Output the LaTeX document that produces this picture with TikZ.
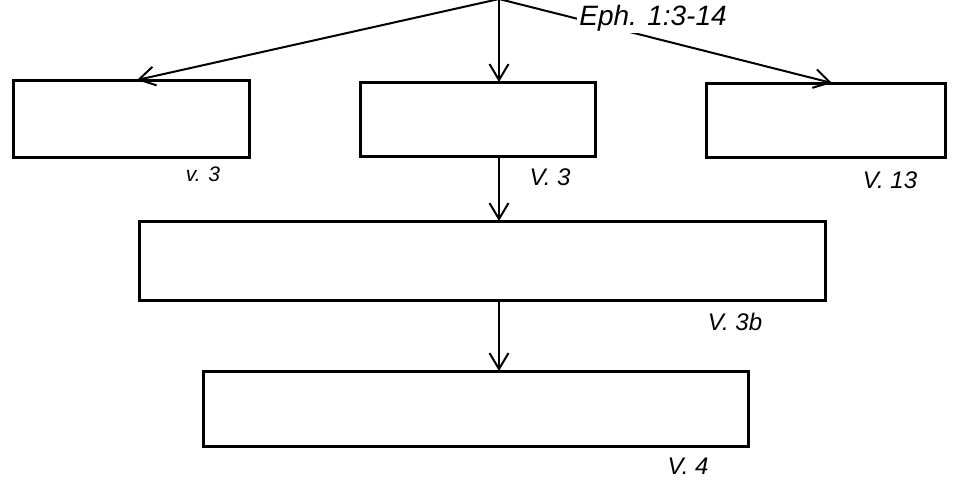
\documentclass[tikz,border=0pt]{standalone}
\usepackage{fontspec}
\setmainfont{Liberation Sans}
\usetikzlibrary{arrows.meta}
\begin{document}
\begin{tikzpicture}[x=1pt,y=-1pt,
  box/.style={draw,line width=3pt,rectangle,inner sep=0pt,outer sep=0pt},
  arr/.style={line width=2pt,-{Straight Barb[length=16pt,width=19pt,line width=2pt]}},
  lbl/.style={font=\fontsize{24}{28}\selectfont\itshape,inner sep=1pt}]
\useasboundingbox (0,0) rectangle (955,485);
\coordinate (apex) at (499,-1);
\node[box,minimum width=236pt,minimum height=77pt] (L) at (131,118.5) {};
\node[box,minimum width=235pt,minimum height=74pt] (M) at (477.5,119) {};
\node[box,minimum width=239pt,minimum height=74pt] (R) at (825.5,120) {};
\node[box,minimum width=686pt,minimum height=79pt] (B) at (482,260.5) {};
\node[box,minimum width=545pt,minimum height=75pt] (D) at (475.5,408.5) {};
\draw[arr] (apex) -- ([xshift=6pt]L.north);
\draw[arr] (apex) -- (apex |- M.north);
\draw[arr] (apex) -- ([xshift=6.5pt]R.north);
\draw[arr] (apex |- M.south) -- (apex |- B.north);
\draw[arr] (apex |- B.south) -- (apex |- D.north);
\node[lbl,font=\fontsize{28}{32}\selectfont\itshape,fill=white,inner sep=2pt] (eph) at (653,18) {Eph. 1:3-14};
\node[lbl,font=\fontsize{21}{24}\selectfont\itshape] (l1) at (203,174) {v. 3};
\node[lbl] (l2) at (550,177) {V. 3};
\node[lbl] (l3) at (890,180) {V. 13};
\node[lbl] (l4) at (735,322) {V. 3b};
\node[lbl] (l5) at (688,466) {V. 4};
\end{tikzpicture}
\end{document}
